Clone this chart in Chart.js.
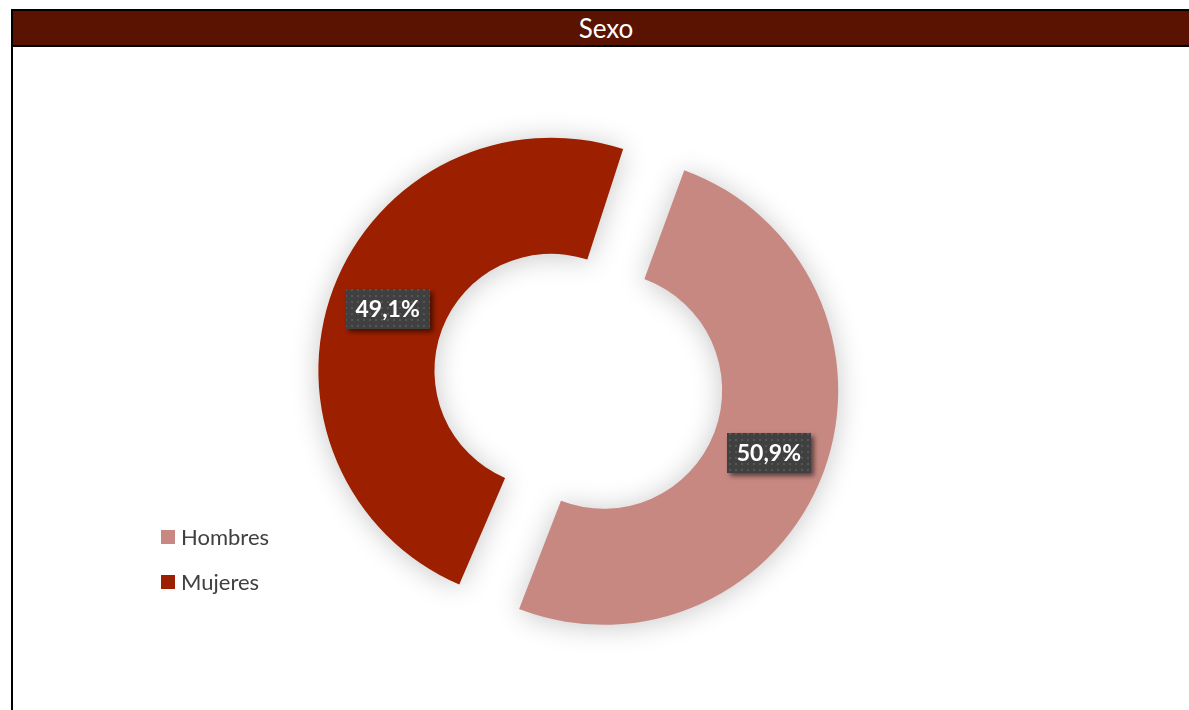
<!DOCTYPE html>
<html lang="es">
<head>
<meta charset="utf-8">
<title>Sexo</title>
<script src="https://cdn.jsdelivr.net/npm/chart.js@4/dist/chart.umd.min.js"></script>
<style>
  html, body { margin: 0; padding: 0; background: #ffffff; width: 1189px; height: 710px; overflow: hidden; }
  body { position: relative; font-family: Lato, "Open Sans", sans-serif; }
  #frame { position: absolute; left: 11px; top: 9px; width: 1200px; height: 720px; border-left: 2px solid #000; border-top: 2px solid #000; box-sizing: border-box; }
  #titleBar { position: absolute; left: 11px; top: 9px; width: 1200px; height: 38px; background: #5a1300; border: 2px solid #000; border-right: none; box-sizing: border-box; }
  #titleText { position: absolute; left: 0; width: 1212px; top: 11px; height: 34px; line-height: 34px; text-align: center; color: #ffffff; font-size: 26px; }
  #chartBox { position: absolute; left: 13px; top: 47px; width: 1176px; height: 663px; }
  #legend { position: absolute; left: 161px; top: 514px; }
  .legItem { display: flex; align-items: center; height: 45px; font-size: 22px; color: #404040; }
  .legSwatch { width: 14px; height: 14px; margin-right: 6px; }
</style>
</head>
<body>
<div id="frame"></div>
<div id="titleBar"></div>
<div id="titleText">Sexo</div>
<div id="chartBox"><canvas id="chart" width="1176" height="663"></canvas></div>
<div id="legend"></div>
<script>
// Categories and shares (percent)
const categories = ['Hombres', 'Mujeres'];
const shares = [50.9, 49.1];
const sliceColors = ['#c78882', '#9c1f00'];

// Percent text shown on each slice, Spanish decimal comma
const formatPct = v => v.toFixed(1).replace('.', ',') + '%';

// Soft halo around the ring segments
const ringShadow = {
  id: 'ringShadow',
  beforeDatasetsDraw(chart) {
    const ctx = chart.ctx;
    ctx.save();
    ctx.shadowColor = 'rgba(0,0,0,0.22)';
    ctx.shadowBlur = 28;
    ctx.shadowOffsetX = 0;
    ctx.shadowOffsetY = 2;
  },
  afterDatasetsDraw(chart) {
    chart.ctx.restore();
  }
};

// Dotted dark fill for the value boxes
function makeDotPattern(ctx) {
  const c = document.createElement('canvas');
  c.width = 6; c.height = 6;
  const g = c.getContext('2d');
  g.fillStyle = '#404040';
  g.fillRect(0, 0, 6, 6);
  g.fillStyle = '#555555';
  g.fillRect(2, 2, 2, 2);
  return ctx.createPattern(c, 'repeat');
}

// Value boxes placed on the middle of each (exploded) slice
const valueBoxes = {
  id: 'valueBoxes',
  afterDatasetsDraw(chart) {
    const ctx = chart.ctx;
    const meta = chart.getDatasetMeta(0);
    const pattern = makeDotPattern(ctx);
    meta.data.forEach((arc, i) => {
      const p = arc.getProps(['x', 'y', 'startAngle', 'endAngle', 'innerRadius', 'outerRadius', 'circumference']);
      // same shift and radius growth that ArcElement applies when drawing
      const shift = (arc.options.offset || 0) / 4;
      const grow = shift * (1 - Math.sin(Math.min(Math.PI, p.circumference || 0)));
      const mid = (p.startAngle + p.endAngle) / 2;
      const r = shift + grow + (p.innerRadius + p.outerRadius) / 2;
      const cx = p.x + Math.cos(mid) * r;
      const cy = p.y + Math.sin(mid) * r;
      const text = formatPct(shares[i]);
      const w = 84, h = 40;
      ctx.save();
      ctx.shadowColor = 'rgba(0,0,0,0.55)';
      ctx.shadowBlur = 5;
      ctx.shadowOffsetX = 3;
      ctx.shadowOffsetY = 3;
      ctx.fillStyle = pattern;
      ctx.fillRect(Math.round(cx - w / 2), Math.round(cy - h / 2), w, h);
      ctx.restore();
      ctx.save();
      ctx.fillStyle = '#ffffff';
      ctx.font = 'bold 23px Lato, "Open Sans", sans-serif';
      ctx.textAlign = 'center';
      ctx.textBaseline = 'middle';
      ctx.fillText(text, cx, cy + 1);
      ctx.restore();
    });
  }
};

const chart = new Chart(document.getElementById('chart'), {
  type: 'doughnut',
  data: {
    labels: categories,
    datasets: [{
      data: shares,
      backgroundColor: sliceColors,
      borderWidth: 0,
      offset: 112,
      hoverOffset: 0
    }]
  },
  options: {
    responsive: false,
    animation: false,
    rotation: 19,
    cutout: '43.8%',
    radius: 206.5,
    layout: { padding: { left: 0, right: 47, top: 4, bottom: 0 } },
    plugins: {
      legend: { display: false },
      tooltip: { enabled: false },
      title: { display: false }
    }
  },
  plugins: [ringShadow, valueBoxes]
});

// Legend built from the same categories and colors
const legend = document.getElementById('legend');
categories.forEach((name, i) => {
  const item = document.createElement('div');
  item.className = 'legItem';
  const sw = document.createElement('span');
  sw.className = 'legSwatch';
  sw.style.background = sliceColors[i];
  const label = document.createElement('span');
  label.textContent = name;
  item.appendChild(sw);
  item.appendChild(label);
  legend.appendChild(item);
});
</script>
</body>
</html>
